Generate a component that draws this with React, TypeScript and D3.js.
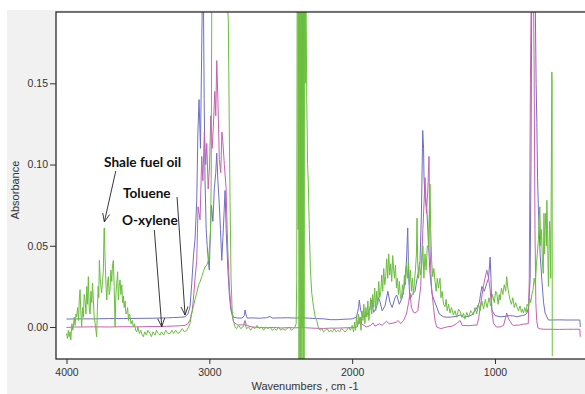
import { useRef, useEffect } from 'react';
import * as d3 from 'd3';

type Pt = [number, number];

// wavenumber (cm-1), absorbance
const toluene: Pt[] = [
  [4000, 0.0049], [3900, 0.005], [3800, 0.005], [3700, 0.0052], [3600, 0.0052], [3500, 0.0053], [3400, 0.0054],
  [3300, 0.0056], [3250, 0.0058], [3200, 0.006], [3170, 0.0063], [3150, 0.008], [3135, 0.0125], [3123, 0.027],
  [3110, 0.045], [3100, 0.054], [3088, 0.078], [3080, 0.12], [3072, 0.14], [3062, 0.11], [3055, 0.16], [3048, 0.21],
  [3042, 0.21], [3036, 0.14], [3030, 0.09], [3022, 0.06], [3015, 0.05], [3009, 0.043], [3000, 0.035], [2992, 0.06],
  [2985, 0.075], [2975, 0.065], [2965, 0.085], [2955, 0.095], [2948, 0.107], [2940, 0.09], [2930, 0.075], [2922, 0.06],
  [2913, 0.041], [2905, 0.055], [2897, 0.07], [2890, 0.084], [2882, 0.06], [2870, 0.035], [2860, 0.02], [2850, 0.011],
  [2843, 0.0085], [2830, 0.006], [2800, 0.0055], [2770, 0.0055], [2755, 0.007], [2750, 0.0105], [2744, 0.008],
  [2735, 0.0055], [2700, 0.0056], [2650, 0.0054], [2600, 0.0057], [2575, 0.0065], [2560, 0.0055], [2500, 0.0056],
  [2450, 0.0057], [2400, 0.0055], [2350, 0.0057], [2300, 0.0054], [2250, 0.0052], [2200, 0.005], [2150, 0.0045],
  [2100, 0.0045], [2050, 0.0048], [2000, 0.005], [1970, 0.006], [1955, 0.012], [1950, 0.0166], [1940, 0.01],
  [1924, 0.0063], [1900, 0.007], [1880, 0.01], [1863, 0.0166], [1850, 0.009], [1830, 0.012], [1815, 0.018],
  [1805, 0.0156], [1790, 0.01], [1770, 0.013], [1750, 0.022], [1735, 0.015], [1720, 0.012], [1700, 0.018],
  [1688, 0.0197], [1670, 0.014], [1650, 0.018], [1635, 0.025], [1620, 0.04], [1611, 0.061], [1604, 0.03],
  [1595, 0.017], [1580, 0.02], [1560, 0.022], [1545, 0.03], [1538, 0.033], [1525, 0.04], [1515, 0.07], [1506, 0.121],
  [1500, 0.11], [1497, 0.092], [1490, 0.08], [1477, 0.072], [1465, 0.05], [1455, 0.033], [1440, 0.02], [1420, 0.015],
  [1408, 0.0123], [1390, 0.008], [1361, 0.0063], [1330, 0.006], [1300, 0.0062], [1270, 0.0065], [1244, 0.0074],
  [1220, 0.006], [1190, 0.0065], [1160, 0.0075], [1127, 0.0117], [1110, 0.015], [1092, 0.025], [1075, 0.022],
  [1057, 0.027], [1045, 0.03], [1034, 0.043], [1028, 0.03], [1022, 0.0105], [1000, 0.007], [964, 0.0063],
  [930, 0.0065], [900, 0.007], [870, 0.0068], [847, 0.0063], [810, 0.007], [790, 0.0075], [777, 0.0084],
  [765, 0.012], [754, 0.029], [748, 0.1], [742, 0.22], [730, 0.22], [718, 0.2], [712, 0.15], [707, 0.126],
  [702, 0.092], [696, 0.072], [684, 0.045], [672, 0.029], [660, 0.015], [649, 0.0086], [626, 0.0043], [600, 0.0043],
  [550, 0.0044], [500, 0.0043], [450, 0.0043], [406, 0.0043], [403, 0.0],
];

const oXylene: Pt[] = [
  [4000, -0.0003], [3950, 0.0], [3900, 0.0], [3800, 0.0001], [3700, 0.0], [3600, 0.0002], [3500, 0.0001],
  [3400, 0.0003], [3300, 0.0004], [3200, 0.0008], [3170, 0.001], [3150, 0.002], [3135, 0.0043], [3120, 0.01],
  [3112, 0.0166], [3100, 0.03], [3088, 0.041], [3079, 0.074], [3065, 0.066], [3053, 0.105], [3045, 0.09],
  [3035, 0.12], [3025, 0.1], [3018, 0.113], [3008, 0.085], [2998, 0.1], [2990, 0.13], [2980, 0.11], [2972, 0.123],
  [2962, 0.145], [2955, 0.13], [2948, 0.164], [2940, 0.14], [2930, 0.103], [2920, 0.095], [2912, 0.12],
  [2906, 0.115], [2895, 0.1], [2883, 0.086], [2872, 0.05], [2860, 0.025], [2850, 0.013], [2843, 0.0086],
  [2830, 0.003], [2800, 0.0012], [2760, 0.0013], [2750, 0.004], [2740, 0.001], [2700, 0.0], [2650, -0.0003],
  [2600, -0.0005], [2550, -0.0003], [2500, -0.0006], [2450, -0.0004], [2400, -0.0005], [2350, -0.0004],
  [2300, -0.0006], [2250, -0.0008], [2200, -0.0009], [2150, -0.0007], [2100, -0.0007], [2050, -0.0005],
  [2000, -0.0004], [1965, 0.0], [1950, 0.004], [1944, 0.006], [1935, 0.002], [1900, 0.0], [1870, 0.001],
  [1853, 0.0025], [1840, 0.0005], [1810, 0.002], [1790, 0.001], [1760, 0.0035], [1740, 0.002], [1710, 0.0025],
  [1690, 0.003], [1678, 0.004], [1660, 0.002], [1640, 0.004], [1620, 0.008], [1605, 0.015], [1595, 0.021],
  [1585, 0.012], [1570, 0.009], [1560, 0.0086], [1540, 0.01], [1520, 0.025], [1505, 0.06], [1495, 0.08],
  [1490, 0.092], [1480, 0.07], [1470, 0.085], [1462, 0.105], [1455, 0.049], [1445, 0.025], [1431, 0.0125],
  [1420, 0.004], [1408, 0.0], [1380, -0.001], [1338, 0.0], [1300, 0.0005], [1270, 0.002], [1244, 0.004],
  [1230, 0.001], [1180, 0.0008], [1140, 0.0012], [1127, 0.001], [1115, 0.005], [1104, 0.0117], [1090, 0.02],
  [1081, 0.025], [1070, 0.03], [1057, 0.035], [1045, 0.03], [1034, 0.023], [1022, 0.01], [1011, 0.0025],
  [990, 0.0], [964, 0.0], [940, 0.001], [925, 0.006], [918, 0.0086], [905, 0.005], [880, 0.0015], [871, 0.001],
  [830, 0.0012], [800, 0.0018], [767, 0.002], [760, 0.03], [752, 0.15], [745, 0.22], [732, 0.22], [726, 0.16],
  [720, 0.06], [714, 0.015], [708, 0.004], [700, -0.0005], [680, -0.0012], [650, -0.0014], [600, -0.0014],
  [550, -0.0015], [500, -0.0014], [450, -0.0014], [406, -0.0014], [403, -0.006],
];

const shaleFuelOil: Pt[] = [
  [4000, -0.004], [3993, -0.007], [3987, -0.002], [3982, -0.006], [3975, -0.003], [3970, -0.008], [3962, 0.002],
  [3956, -0.002], [3952, 0.0], [3946, 0.006], [3940, 0.001], [3934, 0.008], [3929, 0.0063], [3922, 0.012],
  [3915, 0.004], [3910, 0.018], [3905, 0.023], [3900, 0.01], [3894, 0.0], [3888, 0.012], [3882, 0.006],
  [3876, 0.02], [3870, 0.0166], [3864, 0.008], [3858, 0.025], [3852, 0.014], [3847, 0.031], [3841, 0.012],
  [3835, 0.008], [3829, 0.022], [3823, 0.015], [3818, 0.027], [3812, 0.017], [3806, 0.006], [3800, 0.0025],
  [3794, -0.002], [3789, -0.006], [3784, 0.01], [3778, 0.025], [3774, 0.018], [3770, 0.041], [3764, 0.03],
  [3758, 0.024], [3754, 0.021], [3748, 0.028], [3742, 0.035], [3737, 0.06], [3735, 0.061], [3731, 0.045],
  [3728, 0.037], [3723, 0.025], [3718, 0.0166], [3712, 0.028], [3707, 0.031], [3701, 0.02], [3695, 0.023],
  [3689, 0.035], [3683, 0.028], [3678, 0.038], [3672, 0.041], [3666, 0.025], [3660, 0.0], [3654, 0.02],
  [3648, 0.027], [3642, 0.034], [3637, 0.0166], [3631, 0.025], [3625, 0.029], [3619, 0.02], [3613, 0.026],
  [3607, 0.015], [3602, 0.019], [3596, 0.012], [3590, 0.016], [3584, 0.008], [3578, 0.0084], [3572, 0.012],
  [3566, 0.004], [3560, 0.008], [3555, 0.0063], [3548, 0.002], [3540, 0.004], [3532, 0.0], [3524, 0.002],
  [3516, -0.002], [3508, -0.003], [3500, 0.0], [3490, -0.004], [3480, -0.002], [3470, -0.005], [3462, -0.006],
  [3452, -0.003], [3440, -0.005], [3430, -0.002], [3415, -0.004], [3405, -0.006], [3395, -0.003], [3380, -0.005],
  [3370, -0.002], [3358, -0.004], [3345, -0.005], [3335, -0.003], [3320, -0.005], [3305, -0.002], [3290, -0.004],
  [3275, -0.004], [3262, -0.002], [3250, -0.004], [3235, -0.002], [3220, -0.004], [3205, -0.003], [3190, -0.001],
  [3175, -0.003], [3158, -0.002], [3145, 0.0], [3135, 0.0023], [3124, 0.008], [3112, 0.0125], [3100, 0.017],
  [3088, 0.021], [3075, 0.026], [3064, 0.028], [3053, 0.031], [3042, 0.034], [3030, 0.037], [3018, 0.038],
  [3007, 0.041], [2998, 0.05], [2992, 0.058], [2987, 0.09], [2983, 0.2], [2975, 0.25], [2950, 0.25], [2920, 0.25],
  [2900, 0.25], [2885, 0.22], [2875, 0.2], [2867, 0.189], [2860, 0.12], [2855, 0.078], [2848, 0.03], [2840, 0.01],
  [2832, 0.004], [2820, 0.0], [2810, -0.001], [2795, 0.001], [2780, -0.001], [2765, 0.0], [2750, 0.002],
  [2740, -0.001], [2725, 0.0], [2710, -0.002], [2695, 0.0], [2680, -0.001], [2665, 0.001], [2650, -0.001],
  [2635, 0.0], [2620, -0.002], [2605, 0.0], [2590, -0.001], [2575, 0.0], [2560, -0.002], [2545, -0.001],
  [2530, -0.002], [2515, 0.0], [2500, -0.002], [2485, -0.001], [2470, -0.002], [2455, -0.001], [2440, 0.0],
  [2425, -0.002], [2410, -0.001], [2400, 0.0], [2392, 0.002], [2388, 0.03], [2385, 0.22], [2381, 0.25],
  [2378, 0.06], [2375, 0.25], [2372, -0.03], [2368, 0.25], [2364, -0.03], [2360, 0.22], [2357, -0.03],
  [2354, 0.25], [2350, 0.0], [2347, 0.25], [2344, -0.03], [2340, 0.22], [2337, -0.03], [2333, 0.25],
  [2328, 0.15], [2324, 0.22], [2318, 0.14], [2312, 0.1], [2307, 0.089], [2300, 0.06], [2292, 0.035],
  [2283, 0.021], [2270, 0.012], [2258, 0.006], [2248, 0.004], [2238, 0.0], [2225, -0.002], [2212, -0.001],
  [2200, -0.003], [2188, -0.002], [2175, -0.001], [2162, -0.003], [2150, -0.002], [2138, -0.003], [2125, -0.001],
  [2112, -0.003], [2100, -0.002], [2088, -0.003], [2075, -0.001], [2062, -0.002], [2050, -0.003], [2038, -0.002],
  [2025, 0.0], [2012, -0.002], [2000, 0.001], [1990, -0.003], [1983, 0.003], [1976, -0.002], [1970, 0.006],
  [1963, 0.0], [1956, 0.008], [1950, 0.002], [1945, 0.006], [1938, -0.002], [1931, 0.01], [1924, 0.004],
  [1918, 0.014], [1911, 0.002], [1904, 0.012], [1897, 0.006], [1890, 0.016], [1883, 0.004], [1876, 0.01],
  [1870, 0.018], [1863, 0.008], [1856, 0.02], [1849, 0.012], [1842, 0.024], [1835, 0.01], [1828, 0.022],
  [1821, 0.014], [1814, 0.028], [1807, 0.018], [1800, 0.021], [1793, 0.032], [1786, 0.022], [1779, 0.036],
  [1772, 0.026], [1765, 0.031], [1758, 0.042], [1751, 0.03], [1744, 0.045], [1737, 0.032], [1730, 0.039],
  [1723, 0.028], [1716, 0.044], [1711, 0.037], [1704, 0.03], [1697, 0.038], [1690, 0.024], [1683, 0.03],
  [1676, 0.02], [1669, 0.028], [1662, 0.018], [1655, 0.0166], [1648, 0.026], [1641, 0.02], [1634, 0.032],
  [1627, 0.026], [1620, 0.038], [1613, 0.03], [1606, 0.041], [1599, 0.026], [1592, 0.035], [1585, 0.022],
  [1578, 0.03], [1571, 0.02], [1564, 0.028], [1557, 0.035], [1550, 0.045], [1546, 0.067], [1541, 0.04],
  [1535, 0.03], [1528, 0.04], [1522, 0.032], [1513, 0.037], [1505, 0.05], [1498, 0.03], [1490, 0.045],
  [1482, 0.035], [1474, 0.05], [1467, 0.049], [1460, 0.07], [1455, 0.088], [1450, 0.06], [1443, 0.04],
  [1436, 0.031], [1428, 0.036], [1420, 0.028], [1412, 0.022], [1404, 0.03], [1396, 0.024], [1385, 0.03],
  [1378, 0.018], [1370, 0.022], [1360, 0.014], [1350, 0.0125], [1342, 0.017], [1335, 0.01], [1325, 0.014],
  [1315, 0.0086], [1305, 0.012], [1291, 0.0074], [1280, 0.01], [1268, 0.006], [1255, 0.011], [1244, 0.0094],
  [1232, 0.006], [1221, 0.0084], [1210, 0.005], [1198, 0.009], [1185, 0.006], [1170, 0.01], [1151, 0.0074],
  [1140, 0.012], [1128, 0.008], [1115, 0.014], [1104, 0.01], [1092, 0.016], [1080, 0.011], [1068, 0.017],
  [1055, 0.012], [1042, 0.018], [1030, 0.013], [1018, 0.02], [1005, 0.015], [995, 0.022], [988, 0.021],
  [978, 0.014], [970, 0.02], [964, 0.0166], [955, 0.024], [945, 0.02], [935, 0.026], [925, 0.022], [918, 0.031],
  [910, 0.024], [902, 0.02], [894, 0.0166], [885, 0.014], [875, 0.018], [865, 0.012], [855, 0.015], [847, 0.0125],
  [835, 0.01], [825, 0.013], [815, 0.009], [808, 0.011], [801, 0.0086], [792, 0.012], [782, 0.009], [775, 0.014],
  [766, 0.0125], [758, 0.018], [750, 0.015], [742, 0.02], [733, 0.023], [726, 0.03], [718, 0.026], [710, 0.038],
  [704, 0.045], [696, 0.054], [692, 0.065], [686, 0.074], [680, 0.05], [674, 0.06], [668, 0.04], [662, 0.033],
  [657, 0.07], [653, 0.045], [649, 0.06], [644, 0.07], [640, 0.05], [637, 0.078], [632, 0.06], [629, 0.04],
  [626, 0.025], [622, 0.045], [618, 0.065], [614, 0.058], [610, 0.03], [606, 0.09], [602, 0.157], [600, 0.15],
  [599, -0.018],
];

const xTicks = [4000, 3000, 2000, 1000];
const yTicks = [0.0, 0.05, 0.1, 0.15];

// annotation: label text position, arrow start and arrow tip, in data units
const labels = ['Shale fuel oil', 'Toluene', 'O-xylene'];
const labelAt: Pt[] = [[3737, 0.0985], [3604, 0.0794], [3611, 0.0628]];
const arrowFrom: Pt[] = [[3655, 0.096], [3226, 0.08], [3385, 0.0597]];
const arrowTo: Pt[] = [[3735, 0.0647], [3170, 0.0074], [3333, 0.0002]];

const series = [
  { name: 'Toluene', data: toluene, color: '#6f6fc4' },
  { name: 'O-xylene', data: oXylene, color: '#c562b3' },
  { name: 'Shale fuel oil', data: shaleFuelOil, color: '#6bbe3e' },
];

const W = 585;
const H = 394;

export default function App() {
  const ref = useRef<SVGSVGElement>(null);

  useEffect(() => {
    if (!ref.current) return;
    const svg = d3.select(ref.current);
    svg.selectAll('*').remove();

    const left = 56, top = 12, right = 590, bottom = 359;

    const x = d3.scaleLinear().domain([4073.5, 334.8]).range([left, right]);
    const y = d3.scaleLinear().domain([-0.0197, 0.1939]).range([bottom, top]);

    // grey panel + white plot area
    svg.append('rect').attr('x', 7).attr('y', 10).attr('width', W - 7).attr('height', H - 10).attr('fill', '#f0f1f0');
    svg.append('rect').attr('x', left).attr('y', top).attr('width', right - left).attr('height', bottom - top).attr('fill', '#fff');

    svg.append('clipPath').attr('id', 'plot-clip')
      .append('rect').attr('x', left).attr('y', top).attr('width', right - left).attr('height', bottom - top);

    const line = d3.line<Pt>().x(d => x(d[0])).y(d => y(d[1]));

    const g = svg.append('g').attr('clip-path', 'url(#plot-clip)');
    series.forEach(s => {
      g.append('path')
        .datum(s.data)
        .attr('fill', 'none')
        .attr('stroke', s.color)
        .attr('stroke-width', 1)
        .attr('stroke-linejoin', 'round')
        .attr('d', line);
    });

    // frame
    svg.append('rect').attr('x', left).attr('y', top).attr('width', right - left).attr('height', bottom - top)
      .attr('fill', 'none').attr('stroke', '#1a1a1a').attr('stroke-width', 1.2);

    // axes
    const xAxis = svg.append('g').attr('transform', `translate(0,${bottom})`)
      .call(d3.axisBottom(x).tickValues(xTicks).tickSize(5).tickSizeOuter(0).tickFormat(d3.format('d')));
    const yAxis = svg.append('g').attr('transform', `translate(${left},0)`)
      .call(d3.axisLeft(y).tickValues(yTicks).tickSize(6).tickSizeOuter(0).tickFormat(d3.format('.2f')));
    [xAxis, yAxis].forEach(a => {
      a.select('.domain').remove();
      a.selectAll('line').attr('stroke', '#333');
      a.selectAll('text').attr('fill', '#333').style('font-family', '"Liberation Sans", Arial, sans-serif').style('font-size', '10.5px');
    });
    xAxis.selectAll('text').attr('dy', '0.9em');
    yAxis.selectAll('text').attr('x', -8);

    svg.append('text')
      .attr('x', 305).attr('y', 390)
      .attr('text-anchor', 'middle')
      .attr('fill', '#333')
      .style('font-family', '"Liberation Sans", Arial, sans-serif').style('font-size', '11px')
      .text('Wavenumbers , cm -1');

    svg.append('text')
      .attr('transform', `translate(19,190) rotate(-90)`)
      .attr('text-anchor', 'middle')
      .attr('fill', '#333')
      .style('font-family', '"Liberation Sans", Arial, sans-serif').style('font-size', '11px')
      .text('Absorbance');

    // annotations
    labels.forEach((t, i) => {
      svg.append('text')
        .attr('x', x(labelAt[i][0])).attr('y', y(labelAt[i][1]))
        .attr('fill', '#111')
        .style('font-family', 'Lato, "Open Sans", sans-serif').style('font-size', '13.6px').style('font-weight', 700)
        .text(t);
      const x0 = x(arrowFrom[i][0]), y0 = y(arrowFrom[i][1]);
      const x1 = x(arrowTo[i][0]), y1 = y(arrowTo[i][1]);
      const ang = Math.atan2(y1 - y0, x1 - x0);
      const len = 9, spread = 0.4;
      const a1: Pt = [x1 - len * Math.cos(ang - spread), y1 - len * Math.sin(ang - spread)];
      const a2: Pt = [x1 - len * Math.cos(ang + spread), y1 - len * Math.sin(ang + spread)];
      svg.append('path')
        .attr('d', `M${x0},${y0}L${x1},${y1}M${a1[0]},${a1[1]}L${x1},${y1}L${a2[0]},${a2[1]}`)
        .attr('fill', 'none').attr('stroke', '#222').attr('stroke-width', 0.9);
    });
  }, []);

  return (
    <svg ref={ref} width={W} height={H}
      style={{ position: 'absolute', left: 0, top: 0, display: 'block', background: '#fff' }} />
  );
}
